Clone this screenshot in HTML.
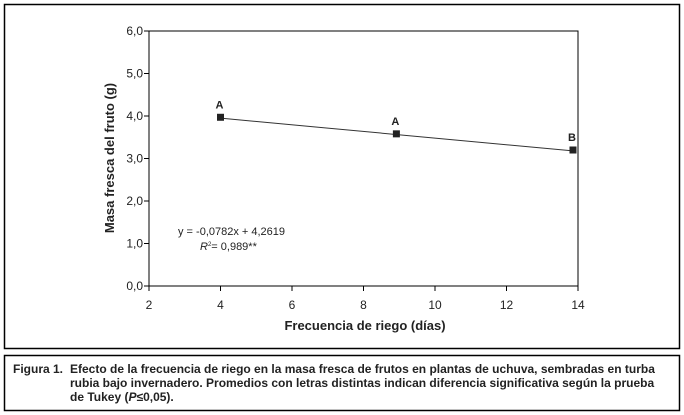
<!DOCTYPE html>
<html><head><meta charset="utf-8"><style>
body{margin:0;background:#fff;width:684px;height:415px;overflow:hidden;font-family:"Liberation Sans Narrow","Liberation Sans",sans-serif;}
svg{position:absolute;left:0;top:0}
</style></head><body>
<svg width="684" height="415" font-family="'Liberation Sans Narrow','Liberation Sans',sans-serif">
<rect x="4.5" y="4.5" width="675" height="344" fill="none" stroke="#000" stroke-width="1.5"/>
<rect x="4.5" y="355.5" width="675" height="55" fill="none" stroke="#000" stroke-width="1.5"/>
<g id="plot"></g>
<text x="365" y="330" font-size="13" font-weight="bold" text-anchor="middle" fill="#222">Frecuencia de riego (días)</text>
<text transform="translate(114,158) rotate(-90)" font-size="13" font-weight="bold" text-anchor="middle" fill="#222">Masa fresca del fruto (g)</text>
<text x="178" y="235" font-size="11" fill="#222">y = -0,0782x + 4,2619</text>
<text x="200" y="250" font-size="11" fill="#222"><tspan font-style="italic">R</tspan><tspan font-size="6" dy="-4">2</tspan><tspan dy="4">= 0,989**</tspan></text>
<g font-size="12" font-weight="bold" fill="#222">
<text x="13" y="373">Figura 1.</text>
<text x="70" y="373">Efecto de la frecuencia de riego en la masa fresca de frutos en plantas de uchuva, sembradas en turba</text>
<text x="70" y="387">rubia bajo invernadero. Promedios con letras distintas indican diferencia significativa según la prueba</text>
<text x="70" y="401">de Tukey (<tspan font-style="italic">P</tspan>≤0,05).</text>
</g>
</svg>
<script>
const xVals=[4,8.92,13.86];
const yVals=[3.97,3.58,3.2];
const letters=["A","A","B"];
const xTicks=[2,4,6,8,10,12,14];
const yTicks=[0,1,2,3,4,5,6];
const yTickLabels=["0,0","1,0","2,0","3,0","4,0","5,0","6,0"];
const slope=-0.0782, intercept=4.2619;
const L=149,R=578,T=31,B=286;
const sx=v=>L+(v-2)/12*(R-L);
const sy=v=>B-v/6*(B-T);
const NS="http://www.w3.org/2000/svg";
const g=document.getElementById('plot');
function mk(t,a){const e=document.createElementNS(NS,t);for(const k in a)e.setAttribute(k,a[k]);g.appendChild(e);return e;}
let e;
e=mk('rect',{x:L,y:T,width:R-L,height:B-T,fill:'none',stroke:'#000','stroke-width':1});


yTicks.forEach((v,i)=>{
 e=mk('line',{x1:L-5,x2:L,y1:sy(v),y2:sy(v),stroke:'#000'});
 
 
 e=mk('text',{x:L-6,y:sy(v)+4,'font-size':12,'text-anchor':'end',fill:'#222'});e.textContent=yTickLabels[i];
 
 
});
xTicks.forEach(v=>{
 e=mk('line',{x1:sx(v),x2:sx(v),y1:B,y2:B+5,stroke:'#000'});
 
 
 e=mk('text',{x:sx(v),y:B+23,'font-size':12,'text-anchor':'middle',fill:'#222'});e.textContent=v;
 
 
});
const x0=xVals[0],x1=xVals[xVals.length-1];
e=mk('line',{x1:sx(x0),y1:sy(slope*x0+intercept),x2:sx(x1),y2:sy(slope*x1+intercept),stroke:'#333','stroke-width':1});


xVals.forEach((x,i)=>{
 e=mk('rect',{x:sx(x)-3.5,y:sy(yVals[i])-3.5,width:7,height:7,fill:'#222'});
 
 
 e=mk('text',{x:sx(x)-1,y:sy(yVals[i])-9,'font-size':11,'font-weight':'bold','text-anchor':'middle',fill:'#222'});e.textContent=letters[i];
 
 
});
</script>
</body></html>
